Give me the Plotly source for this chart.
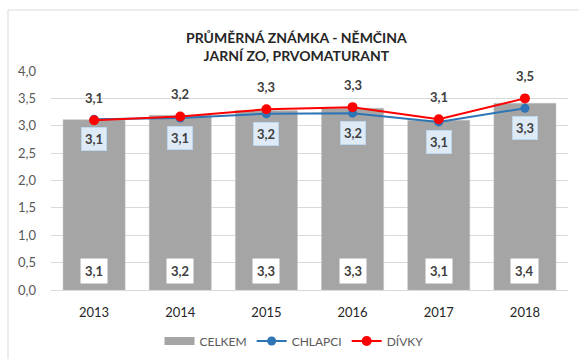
import plotly.graph_objects as go

years = ["2013", "2014", "2015", "2016", "2017", "2018"]
celkem = [3.11, 3.19, 3.28, 3.32, 3.10, 3.41]
chlapci = [3.12, 3.14, 3.22, 3.23, 3.07, 3.32]
divky = [3.10, 3.17, 3.30, 3.34, 3.12, 3.50]
y_ticks = [0, 0.5, 1.0, 1.5, 2.0, 2.5, 3.0, 3.5, 4.0]
title_lines = ["PRŮMĚRNÁ ZNÁMKA - NĚMČINA", "JARNÍ ZO, PRVOMATURANT"]

W, H = 579, 359
L, R, T, B = 51, 11, 71, 69
PW, PH = W - L - R, H - T - B
FONT = "Lato, 'Open Sans', sans-serif"
GREY_TXT = "#595959"
DARK_TXT = "#404040"
BAR_GREY = "#A5A5A5"


def cz(v):
    return f"{v:.1f}".replace(".", ",")


fig = go.Figure()

fig.add_trace(go.Bar(
    x=years, y=celkem, name="CELKEM", showlegend=False,
    marker=dict(color=BAR_GREY, line=dict(color="#BFBFBF", width=0.5)),
    hoverinfo="skip",
))
# wide flat swatch for the bar series in the legend
fig.add_trace(go.Scatter(
    x=[None], y=[None], name="CELKEM", mode="lines",
    line=dict(color=BAR_GREY, width=8), hoverinfo="skip",
))
fig.add_trace(go.Scatter(
    x=years, y=chlapci, name="CHLAPCI", mode="lines+markers",
    line=dict(color="#2E75B6", width=2),
    marker=dict(color="#2E75B6", size=9),
    hoverinfo="skip",
))
fig.add_trace(go.Scatter(
    x=years, y=divky, name="DÍVKY", mode="lines+markers",
    line=dict(color="#FF0000", width=2),
    marker=dict(color="#FF0000", size=10),
    hoverinfo="skip",
))

annotations = [dict(
    x=(296 - L) / PW, y=1 + (T - 46) / PH, xref="paper", yref="paper",
    text="<b>" + "<br>".join(title_lines) + "</b>",
    showarrow=False, xanchor="center", yanchor="middle",
    font=dict(family=FONT, size=14, color="#262626"),
)]
label_font = dict(family=FONT, size=13, color=DARK_TXT)
for i in range(len(years)):
    # on a category axis the annotation x is the category's index
    # total value in a white box at the foot of each bar
    annotations.append(dict(
        x=i, y=0, xref="x", yref="y", text=f"<b>{cz(celkem[i])}</b>",
        showarrow=False, yanchor="bottom", yshift=6,
        bgcolor="white", borderpad=4, font=label_font,
    ))
    # boys' value in a pale blue box under the point
    annotations.append(dict(
        x=i, y=chlapci[i], xref="x", yref="y", text=f"<b>{cz(chlapci[i])}</b>",
        showarrow=False, yanchor="middle", yshift=-20,
        bgcolor="#DEEBF7", bordercolor="#BDD7EE", borderwidth=1,
        borderpad=3, font=label_font,
    ))
    # girls' value above the point
    annotations.append(dict(
        x=i, y=divky[i], xref="x", yref="y", text=f"<b>{cz(divky[i])}</b>",
        showarrow=False, yanchor="middle", yshift=22, font=label_font,
    ))

fig.update_layout(
    width=W, height=H,
    margin=dict(l=L, r=R, t=T, b=B, autoexpand=False),
    paper_bgcolor="white", plot_bgcolor="white",
    font=dict(family=FONT, size=13, color=GREY_TXT),
    bargap=0.28,
    xaxis=dict(
        type="category", range=[-0.5, len(years) - 0.5],
        showgrid=False, showline=True, linecolor="#D9D9D9", linewidth=1,
        ticks="", tickfont=dict(size=13, color="#262626"),
        ticklabelstandoff=10, tickangle=0, fixedrange=True,
    ),
    yaxis=dict(
        range=[0, 4.0], tickvals=y_ticks,
        ticktext=[cz(v) for v in y_ticks],
        showgrid=True, gridcolor="#D9D9D9", gridwidth=1,
        zeroline=False, showline=False, ticks="",
        tickfont=dict(size=13, color=GREY_TXT),
        ticklabelstandoff=14, fixedrange=True,
    ),
    legend=dict(
        orientation="h", x=(294 - L) / PW, xanchor="center",
        y=-(341 - (H - B)) / PH, yanchor="middle",
        font=dict(size=12, color=GREY_TXT),
    ),
    annotations=annotations,
    shapes=[dict(
        type="rect", xref="paper", yref="paper",
        x0=(8 - L) / PW, x1=(600 - L) / PW,
        y0=-(380 - (H - B)) / PH, y1=1 + (T - 10) / PH,
        line=dict(color="#D9D9D9", width=1), layer="below",
    )],
)

fig.write_html("out.html")
